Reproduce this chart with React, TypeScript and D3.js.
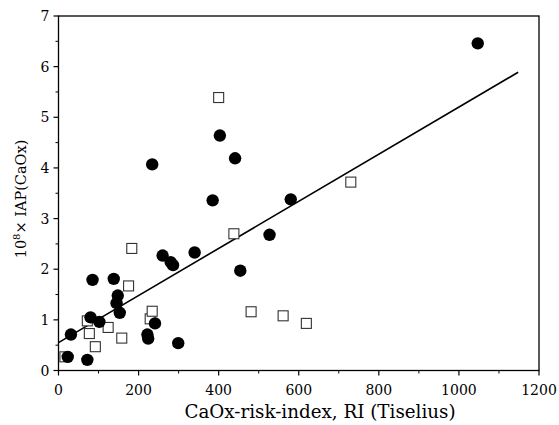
import React from "react";
import * as d3 from "d3";

const circlesX = [23, 31, 72, 85, 80, 102, 138, 148, 145, 153, 222, 224, 241, 299, 260, 280, 286, 340, 385, 454, 527, 580, 1047, 403, 441, 234];
const circlesY = [0.27, 0.71, 0.21, 1.79, 1.05, 0.96, 1.81, 1.48, 1.33, 1.14, 0.71, 0.63, 0.93, 0.54, 2.27, 2.14, 2.08, 2.33, 3.36, 1.97, 2.68, 3.38, 6.46, 4.64, 4.19, 4.07];
const squaresX = [16, 72, 77, 92, 124, 158, 175, 183, 229, 234, 438, 481, 561, 619, 730, 400];
const squaresY = [0.27, 0.98, 0.73, 0.47, 0.85, 0.64, 1.67, 2.41, 1.02, 1.17, 2.70, 1.16, 1.08, 0.93, 3.72, 5.39];
const fitX = [0, 1148];
const fitY = [0.55, 5.89];
const xTicks = [0, 200, 400, 600, 800, 1000, 1200];
const yTicks = [0, 1, 2, 3, 4, 5, 6, 7];

export default function App() {
  const W = 559, H = 425;
  const left = 58.5, right = 539, top = 16, bottom = 370.5;
  const x = d3.scaleLinear().domain([0, 1200]).range([left, right]);
  const y = d3.scaleLinear().domain([0, 7]).range([bottom, top]);
  const font = "DejaVu Serif";
  const xMinor = d3.range(100, 1200, 200);
  const yMinor = d3.range(0.5, 7, 1);
  const line = d3.line<number>().x((d) => x(fitX[d])).y((d) => y(fitY[d]));
  return (
    <svg width={W} height={H} style={{ position: "absolute", left: 0, top: 0, fontFamily: font }}>
      <rect x={0} y={0} width={W} height={H} fill="#fff" />
      <rect x={left} y={top} width={right - left} height={bottom - top} fill="none" stroke="#000" strokeWidth={1.3} />
      {xTicks.map((t) => (
        <g key={"xt" + t}>
          <line x1={x(t)} x2={x(t)} y1={bottom} y2={bottom + 5} stroke="#000" strokeWidth={1.2} />
          <text x={x(t)} y={bottom + 24} textAnchor="middle" fontSize={14}>{t}</text>
        </g>
      ))}
      {xMinor.map((t) => (
        <line key={"xm" + t} x1={x(t)} x2={x(t)} y1={bottom} y2={bottom + 3} stroke="#000" strokeWidth={1} />
      ))}
      {yTicks.map((t) => (
        <g key={"yt" + t}>
          <line x1={left - 5} x2={left} y1={y(t)} y2={y(t)} stroke="#000" strokeWidth={1.2} />
          <text x={left - 9} y={y(t) + 5} textAnchor="end" fontSize={14}>{t}</text>
        </g>
      ))}
      {yMinor.map((t) => (
        <line key={"ym" + t} x1={left - 3} x2={left} y1={y(t)} y2={y(t)} stroke="#000" strokeWidth={1} />
      ))}
      <path d={line([0, 1]) || ""} fill="none" stroke="#000" strokeWidth={1.6} />
      {squaresX.map((v, i) => (
        <rect key={"s" + i} x={x(v) - 5} y={y(squaresY[i]) - 5} width={10} height={10} fill="#fff" stroke="#333" strokeWidth={1.1} />
      ))}
      {circlesX.map((v, i) => (
        <circle key={"c" + i} cx={x(v)} cy={y(circlesY[i])} r={6.2} fill="#000" />
      ))}
      <text x={320} y={418} textAnchor="middle" fontSize={18.3}>CaOx-risk-index, RI (Tiselius)</text>
      <text transform="translate(26,199) rotate(-90)" textAnchor="middle" fontSize={14.5}>
        10<tspan dy={-6} fontSize={10}>8</tspan><tspan dy={6}>× IAP(CaOx)</tspan>
      </text>
    </svg>
  );
}
